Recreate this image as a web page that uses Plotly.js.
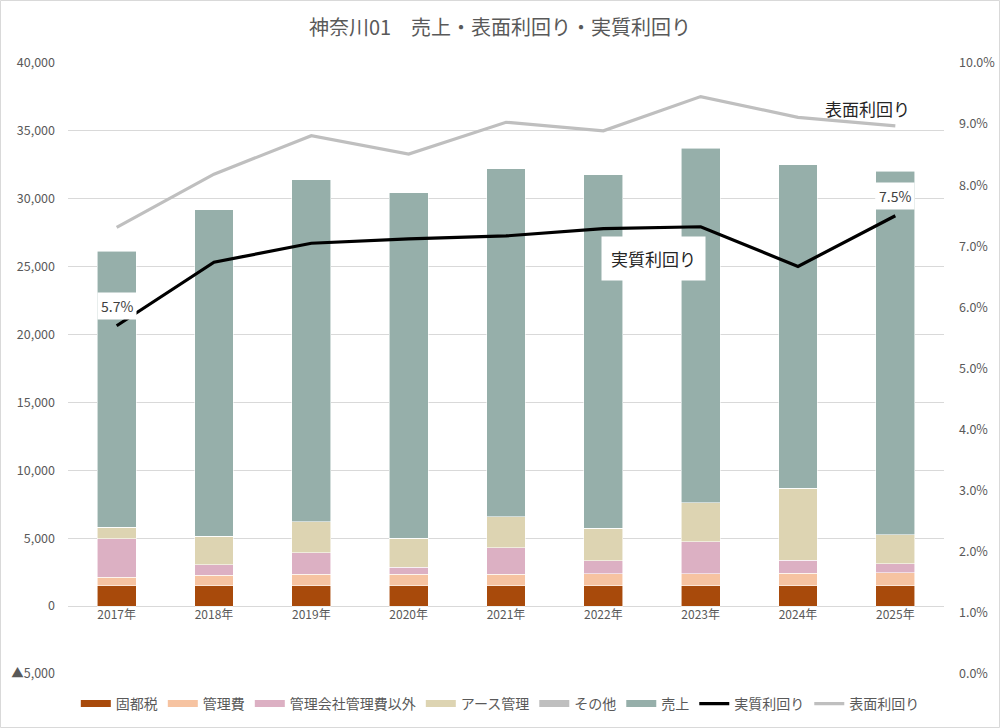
<!DOCTYPE html>
<html>
<head>
<meta charset="utf-8">
<script src="https://cdn.plot.ly/plotly-3.0.1.min.js"></script>
<style>
  body { margin: 0; background: #fff; }
  #chart { width: 1000px; height: 728px; }
</style>
</head>
<body>
<div id="chart"></div>
<script>
// 年度
const years = ["2017年", "2018年", "2019年", "2020年", "2021年", "2022年", "2023年", "2024年", "2025年"];

// 積み上げ棒（円）
const koteizei = [1500, 1500, 1500, 1500, 1500, 1500, 1500, 1500, 1500];
const kanrihi = [620, 780, 830, 860, 830, 900, 900, 930, 950];
const kanriIgai = [2840, 760, 1600, 520, 1960, 930, 2330, 960, 660];
const earthKanri = [840, 2090, 2280, 2110, 2280, 2410, 2900, 5300, 2160];
const sonota = [0, 0, 0, 0, 0, 0, 0, 0, 0];
const uriage = [20350, 24080, 25210, 25460, 25650, 26020, 26100, 23810, 26760];

// 利回り（%）
const jisshitsu = [5.70, 6.74, 7.05, 7.12, 7.17, 7.29, 7.32, 6.67, 7.50];
const hyomen = [7.31, 8.18, 8.81, 8.51, 9.03, 8.89, 9.45, 9.11, 8.97];

// 左軸の目盛り
const leftTicks = [-5000, 0, 5000, 10000, 15000, 20000, 25000, 30000, 35000, 40000];
const leftTickText = ["▲5,000", "0", "5,000", "10,000", "15,000", "20,000", "25,000", "30,000", "35,000", "40,000"];

const FONT = "Noto Sans CJK JP, Noto Sans, sans-serif";
const GRAY_TEXT = "#595959";

// 棒の系列（凡例はExcel風の横長マーカーを別に出す）
const barSeries = [
  ["固都税", koteizei, "#A84A0B"],
  ["管理費", kanrihi, "#F6C3A1"],
  ["管理会社管理費以外", kanriIgai, "#DCB0C3"],
  ["アース管理", earthKanri, "#DDD4B2"],
  ["その他", sonota, "#BFBFBF"],
  ["売上", uriage, "#96AFAA"]
];

const data = [];

barSeries.forEach(([name, values, color]) => {
  data.push({
    x: years,
    y: values,
    name: name,
    legendgroup: name,
    showlegend: false,
    type: "bar",
    marker: { color: color, line: { color: "rgba(255,255,255,0.7)", width: 0.8 } },
    hoverinfo: "none"
  });
});

// 凡例用
barSeries.forEach(([name, values, color]) => {
  data.push({
    x: [null],
    y: [null],
    name: name,
    legendgroup: name,
    type: "scatter",
    mode: "lines",
    line: { color: color, width: 7 },
    hoverinfo: "none"
  });
});

const line = (name, values, color) => ({
  x: years,
  y: values.map(v => v / 100),
  name: name,
  type: "scatter",
  mode: "lines",
  yaxis: "y2",
  line: { color: color, width: 3.2 },
  hoverinfo: "none"
});

data.push(line("実質利回り", jisshitsu, "#000000"));
data.push(line("表面利回り", hyomen, "#BFBFBF"));

const pct = v => v.toFixed(1) + "%";

const layout = {
  width: 1000,
  height: 728,
  margin: { l: 68, r: 56, t: 63, b: 54, autoexpand: false },
  paper_bgcolor: "#fff",
  plot_bgcolor: "#fff",
  font: { family: FONT, color: GRAY_TEXT, size: 12 },
  title: {
    text: "神奈川01　売上・表面利回り・実質利回り",
    font: { family: FONT, size: 20, color: GRAY_TEXT },
    x: 0.5,
    xanchor: "center",
    y: 1 - 28 / 728,
    yanchor: "middle"
  },
  barmode: "stack",
  bargap: 0.6,
  showlegend: true,
  legend: {
    orientation: "h",
    x: 0.4935,
    xanchor: "center",
    y: -0.049,
    yanchor: "middle",
    traceorder: "normal",
    font: { family: FONT, size: 14, color: GRAY_TEXT }
  },
  xaxis: {
    type: "category",
    anchor: "free",
    position: 1 / 9,
    showgrid: false,
    showline: false,
    zeroline: false,
    ticks: "",
    tickfont: { size: 12, color: GRAY_TEXT },
    fixedrange: true
  },
  yaxis: {
    range: [-5000, 40000],
    tickvals: leftTicks,
    ticktext: leftTickText,
    showgrid: true,
    gridcolor: "#D9D9D9",
    gridwidth: 1,
    zeroline: false,
    showline: false,
    ticks: "",
    tickfont: { size: 12.5, color: GRAY_TEXT },
    ticklabelstandoff: 12,
    fixedrange: true
  },
  yaxis2: {
    overlaying: "y",
    side: "right",
    range: [0, 0.10],
    dtick: 0.01,
    tickformat: ".1%",
    showgrid: false,
    zeroline: false,
    showline: false,
    ticks: "",
    tickfont: { size: 12.5, color: GRAY_TEXT },
    ticklabelstandoff: 14,
    fixedrange: true
  },
  annotations: [
    {
      x: years[0], y: jisshitsu[0] / 100, xref: "x", yref: "y2",
      text: pct(jisshitsu[0]), showarrow: false, yshift: 20,
      bgcolor: "#fff", borderpad: 3,
      font: { family: FONT, size: 14, color: "#404040" }
    },
    {
      x: years[8], y: jisshitsu[8] / 100, xref: "x", yref: "y2",
      text: pct(jisshitsu[8]), showarrow: false, yshift: 20,
      bgcolor: "#fff", borderpad: 3,
      font: { family: FONT, size: 14, color: "#404040" }
    },
    {
      x: 5.515, y: 0.068, xref: "x", yref: "y2",
      text: "実質利回り", showarrow: false,
      bgcolor: "#fff", borderpad: 9,
      font: { family: FONT, size: 17, color: "#262626" }
    },
    {
      x: 7.71, y: 0.0925, xref: "x", yref: "y2",
      text: "表面利回り", showarrow: false,
      font: { family: FONT, size: 17, color: "#262626" }
    }
  ],
  shapes: [
    {
      type: "rect", xref: "paper", yref: "paper",
      x0: -67.5 / 876, x1: 931.5 / 876,
      y0: -53.5 / 611, y1: 673.5 / 611,
      line: { color: "#D9D9D9", width: 1 },
      fillcolor: "rgba(0,0,0,0)",
      layer: "below"
    }
  ]
};

Plotly.newPlot("chart", data, layout, { displayModeBar: false, staticPlot: true });
</script>
</body>
</html>
